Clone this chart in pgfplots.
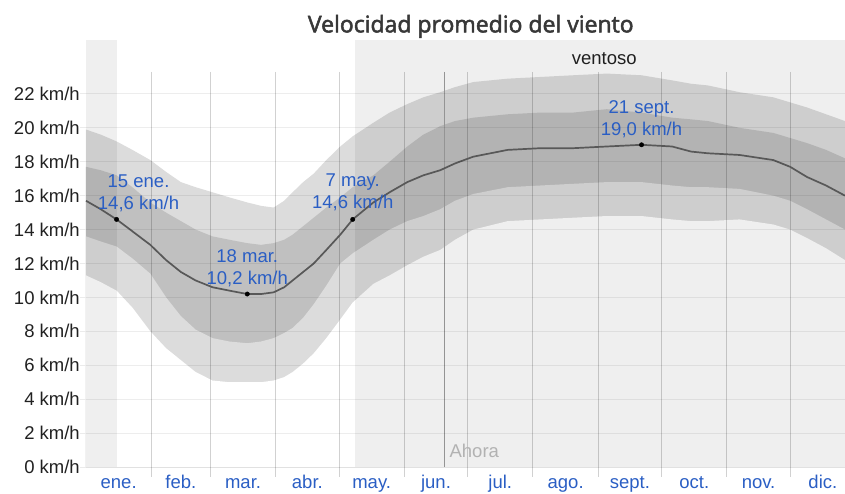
\documentclass[border=0pt]{standalone}
\usepackage{fontspec}
\setmainfont{Liberation Sans}
\newfontfamily\titlefont{Open Sans}[FakeBold=2.2]
\usepackage{pgfplots}
\usepackage{pgfplotstable}
\pgfplotsset{compat=1.18}

\definecolor{monthblue}{RGB}{42,94,196}
\definecolor{windbg}{RGB}{239,239,239}
\definecolor{meanline}{RGB}{88,88,88}
\definecolor{outerband}{RGB}{220,220,220}
\definecolor{innerband}{RGB}{192,192,192}

% day, percentiles 10/25/75/90 and mean (km/h)
\pgfplotstableread{
day   p10  p25  mean p75  p90
0     11.3 13.6 15.7 17.7 19.9
7     10.9 13.3 15.2 17.5 19.6
14.5  10.4 13.0 14.6 17.2 19.2
22    9.4  12.3 13.9 16.5 18.7
30.5  8.0  11.4 13.1 15.6 18.1
38    7.0  10.0 12.2 15.0 17.4
45    6.3  8.9  11.5 14.5 16.8
52    5.6  8.1  11.0 14.0 16.5
60    5.1  7.6  10.6 13.6 16.2
68    5.0  7.4  10.4 13.4 15.9
76.5  5.0  7.3  10.2 13.2 15.6
83    5.0  7.4  10.2 13.1 15.4
89    5.1  7.6  10.3 13.2 15.3
94    5.3  7.9  10.6 13.4 15.7
98    5.6  8.2  11.0 13.7 16.2
103   6.1  8.8  11.5 14.2 16.8
108   6.7  9.6  12.0 14.7 17.3
114   7.6  10.7 12.8 15.3 18.1
120.6 8.7  12.0 13.7 15.9 18.9
126.5 9.7  12.6 14.6 16.5 19.5
136.3 10.8 13.4 15.6 17.2 20.3
144   11.3 14.0 16.2 18.0 20.9
152.4 11.9 14.5 16.8 18.9 21.4
160   12.4 14.8 17.2 19.6 21.8
168   12.8 15.2 17.5 20.1 22.1
175   13.4 15.7 17.9 20.4 22.4
183.7 14.0 16.1 18.3 20.6 22.7
200   14.5 16.5 18.7 20.8 22.9
215.5 14.6 16.6 18.8 20.9 23.0
231   14.7 16.7 18.8 20.9 23.1
247   14.8 16.8 18.9 21.1 23.2
263.5 14.8 16.8 19.0 20.9 23.1
278   14.6 16.6 18.9 20.6 22.8
287   14.5 16.5 18.6 20.5 22.6
295   14.5 16.5 18.5 20.4 22.5
310   14.6 16.4 18.4 20.0 22.1
326   14.3 16.0 18.1 19.7 21.8
334   14.0 15.7 17.7 19.4 21.5
342   13.5 15.2 17.1 19.1 21.2
351   12.9 14.6 16.6 18.7 20.8
360   12.2 14.0 16.0 18.2 20.4
}\wind

\begin{document}
\begin{tikzpicture}
\path[use as bounding box] (-86pt,-26pt) rectangle (759pt,467pt);
\begin{axis}[
  scale only axis,
  width=759pt, height=427pt,
  xmin=0, xmax=360, ymin=0, ymax=25.18,
  axis line style={draw=none},
  clip=false,
  axis on top,
  xtick={15.5,45,74.5,105,135.5,166,196.5,227.5,258,288.5,319,349.5},
  xticklabels={ene.,feb.,mar.,abr.,may.,jun.,jul.,ago.,sept.,oct.,nov.,dic.},
  xtick style={draw=none},
  xticklabel style={text=monthblue, anchor=base, yshift=-15pt,
                    font=\fontsize{18.5}{21}\selectfont},
  ytick={0,2,...,22},
  yticklabels={0 km/h,2 km/h,4 km/h,6 km/h,8 km/h,10 km/h,12 km/h,
               14 km/h,16 km/h,18 km/h,20 km/h,22 km/h},
  yticklabel style={text=black!87, inner sep=0pt,
                    font=\fontsize{18.5}{21}\selectfont},
  ytick style={draw=black!8, line width=0.9pt},
  major tick length=6pt, tick align=outside,
  ymajorgrids,
  grid style={draw=black, draw opacity=0.07, line width=0.9pt},
]
  % percentile bands, stacked from the top down
  \addplot[fill=outerband, draw=none] table[x=day, y=p90] {\wind} \closedcycle;
  \addplot[fill=innerband, draw=none] table[x=day, y=p75] {\wind} \closedcycle;
  \addplot[fill=outerband, draw=none] table[x=day, y=p25] {\wind} \closedcycle;
  \addplot[fill=white, draw=none] table[x=day, y=p10] {\wind} \closedcycle;

  % windy season shading
  \addplot[fill=windbg, draw=none, blend mode=multiply]
    coordinates {(0,25.18) (14.5,25.18)} \closedcycle;
  \addplot[fill=windbg, draw=none, blend mode=multiply]
    coordinates {(127.5,25.18) (360,25.18)} \closedcycle;

  % month separators
  \pgfplotsinvokeforeach{31,59,90,120,151,181,212,243,273,304,334}{
    \draw[black, draw opacity=0.18, line width=1pt]
      (axis cs:#1,23.3) -- ([yshift=-10pt]axis cs:#1,0);
  }
  \draw[black!42, line width=1.3pt] (axis cs:170,23.3) -- (axis cs:170,0);
  \node[anchor=west, inner sep=0pt, xshift=5pt, text=black!30,
        font=\fontsize{18.5}{21}\selectfont] at (axis cs:170,0.94) {Ahora};

  \addplot[meanline, line width=1.7pt] table[x=day, y=mean] {\wind};
  \addplot[only marks, mark=*, mark size=2.2pt, black]
    coordinates {(14.5,14.6) (76.5,10.2) (126.5,14.6) (263.5,19.0)};

  \node[anchor=south, align=center, inner sep=0pt, text=monthblue,
        font=\fontsize{18.5}{22}\selectfont, xshift=22pt, yshift=7pt]
    at (axis cs:14.5,14.6) {15 ene.\\14,6 km/h};
  \node[anchor=south, align=center, inner sep=0pt, text=monthblue,
        font=\fontsize{18.5}{22}\selectfont, yshift=7pt]
    at (axis cs:76.5,10.2) {18 mar.\\10,2 km/h};
  \node[anchor=south, align=center, inner sep=0pt, text=monthblue,
        font=\fontsize{18.5}{22}\selectfont, yshift=8pt]
    at (axis cs:126.5,14.6) {7 may.\\14,6 km/h};
  \node[anchor=south, align=center, inner sep=0pt, text=monthblue,
        font=\fontsize{18.5}{22}\selectfont, yshift=7pt]
    at (axis cs:263.5,19.0) {21 sept.\\19,0 km/h};

  \node[font=\fontsize{18.5}{21}\selectfont, text=black!88]
    at (axis cs:245.8,24.07) {ventoso};
  \node[anchor=base, font=\titlefont\fontsize{23}{26}\selectfont, text=black!78]
    at (axis cs:182.5,25.63) {Velocidad promedio del viento};
\end{axis}
\end{tikzpicture}
\end{document}
